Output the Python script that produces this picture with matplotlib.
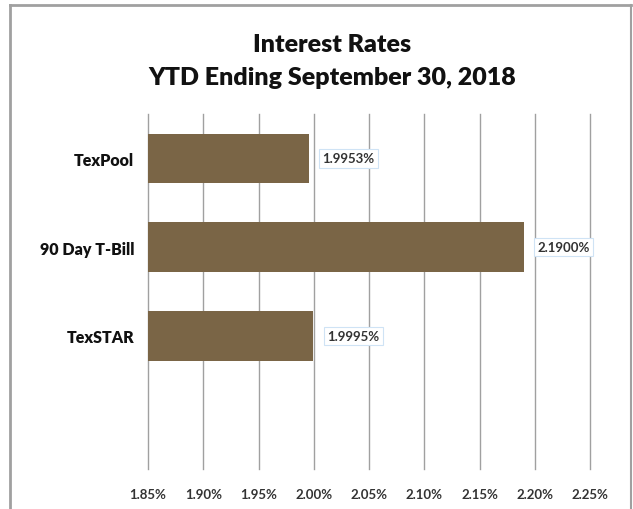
import matplotlib
matplotlib.use("Agg")
import matplotlib.pyplot as plt
from matplotlib.lines import Line2D
from matplotlib.ticker import FuncFormatter

categories = ["TexPool", "90 Day T-Bill", "TexSTAR"]
values = [1.9953, 2.1900, 1.9995]
ticks = [1.85, 1.90, 1.95, 2.00, 2.05, 2.10, 2.15, 2.20, 2.25]
title_lines = ["Interest Rates", "YTD Ending September 30, 2018"]

plt.rcParams['font.family'] = ['Lato', 'DejaVu Sans']

fig = plt.figure(figsize=(6.33, 5.10), dpi=100)
ax = fig.add_axes([148/633, 1-470/510, (590-148)/633, (470-115)/510])

bar_color = "#7a6546"
ypos = list(range(len(categories)))
ax.barh(ypos, [v - ticks[0] for v in values], left=ticks[0], height=0.56,
        color=bar_color, zorder=3)

ax.set_xlim(ticks[0], ticks[-1])
ax.set_ylim(3.5, -0.5)
ax.set_xticks(ticks)
ax.xaxis.set_major_formatter(FuncFormatter(lambda v, p: f"{v:.2f}%"))
ax.set_yticks(ypos)
ax.set_yticklabels(categories, fontsize=11.5, fontweight='heavy', color='#111111')
ax.tick_params(axis='x', length=0, pad=14, labelsize=9.5, labelcolor='#333333')
ax.tick_params(axis='y', length=0, pad=10)
for lbl in ax.get_xticklabels():
    lbl.set_fontweight('bold')
ax.grid(axis='x', color='#a0a0a0', linewidth=1.0, zorder=0)
for gl in ax.get_xgridlines():
    gl.set_clip_on(False)
for s in ax.spines.values():
    s.set_visible(False)

for y, v in zip(ypos, values):
    ax.annotate(f"{v:.4f}%", xy=(v, y), xytext=(10, 0), textcoords='offset points',
                ha='left', va='center', fontsize=9.5, fontweight='bold', color='#333333',
                bbox=dict(boxstyle='square,pad=0.25', facecolor='white',
                          edgecolor='#cfe3f5', linewidth=0.8), zorder=4)

fig.text(332/633, 1-45/510, title_lines[0], ha='center', va='center',
         fontsize=18, fontweight='heavy', color='#111111')
fig.text(332/633, 1-78/510, title_lines[1], ha='center', va='center',
         fontsize=18, fontweight='heavy', color='#111111')

border = '#a0a0a0'
fig.add_artist(Line2D([10/633, 10/633], [0, 1-6/510], transform=fig.transFigure, color=border, lw=2))
fig.add_artist(Line2D([10/633, 631/633], [1-6/510, 1-6/510], transform=fig.transFigure, color=border, lw=2))
fig.add_artist(Line2D([631/633, 631/633], [1-6/510, 0], transform=fig.transFigure, color=border, lw=1.5))

fig.savefig("out.png", dpi=100, facecolor='white')
